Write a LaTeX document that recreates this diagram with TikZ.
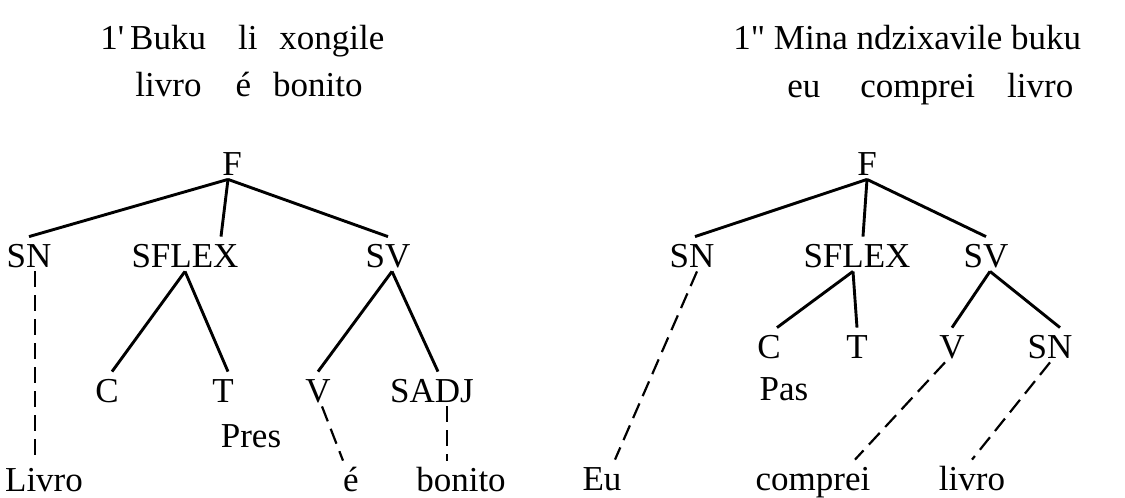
\documentclass[tikz,border=0pt]{standalone}
\usepackage{fontspec}
\setmainfont{Liberation Serif}
\usepackage{tikz}

\tikzset{
  lbl/.style={font=\fontsize{17.5}{21}\selectfont, inner sep=0pt, anchor=base,
              text height=15pt, text depth=2pt},
  leaf/.style={lbl, text depth=0pt},
  gloss/.style={font=\fontsize{17.5}{21}\selectfont, inner sep=0pt, anchor=base west},
  branch/.style={line width=1.45pt},
  trace/.style={line width=1.1pt, dash pattern=on 8pt off 4pt}
}

\begin{document}
\begin{tikzpicture}[x=0.5pt,y=-0.5pt]
\useasboundingbox (0,0) rectangle (1125,498);
% glosses
\node[gloss] (glA1) at (100,49) {1\textquotesingle\kern3pt Buku\hspace{16pt}li\hspace{11pt}xongile};
\node[gloss] (glA2) at (135,96) {livro\hspace{17pt}é\hspace{11pt}bonito};
\node[gloss] (glB1) at (733,49) {1\textquotedbl{} Mina ndzixavile buku};
\node[gloss] (glB2) at (787,97) {eu\hspace{20pt}comprei\hspace{16pt}livro};
% first tree
\node[lbl] (fA) at (232,175) {F};
\node[lbl] (snA) at (29,267) {SN};
\node[lbl] (sflexA) at (185,267) {SFLEX};
\node[lbl] (svA) at (388,267) {SV};
\node[lbl] (cA) at (107,402) {C};
\node[lbl] (tA) at (223,402) {T};
\node[lbl] (vA) at (318,402) {V};
\node[lbl] (sadjA) at (432,402) {SADJ};
\node[lbl] (presA) at (251,447) {Pres};
\node[leaf] (livroA) at (44,491) {Livro};
\node[leaf] (eA) at (351,491) {é};
\node[leaf] (bonitoA) at (461,491) {bonito};
\draw[branch] ([xshift=-2pt]fA.south) -- (snA.north);
\draw[branch] ([xshift=-2pt]fA.south) -- ([xshift=18pt]sflexA.north);
\draw[branch] ([xshift=-2pt]fA.south) -- (svA.north);
\draw[branch] (sflexA.south) -- ([xshift=2.5pt]cA.north);
\draw[branch] (sflexA.south) -- ([xshift=2.5pt]tA.north);
\draw[branch] ([xshift=2pt]svA.south) -- (vA.north);
\draw[branch] ([xshift=2pt]svA.south) -- ([xshift=3pt]sadjA.north);
\draw[trace] ([xshift=3pt]snA.south) -- ([xshift=-4.5pt]livroA.north);
\draw[trace] ([xshift=2pt]vA.south) -- ([xshift=-4pt]eA.north);
\draw[trace] ([xshift=7.5pt]sadjA.south) -- ([xshift=-7pt]bonitoA.north);
% second tree
\node[lbl] (fB) at (867,175) {F};
\node[lbl] (snB) at (692,267) {SN};
\node[lbl] (sflexB) at (857,267) {SFLEX};
\node[lbl] (svB) at (986,267) {SV};
\node[lbl] (cB) at (769,358) {C};
\node[lbl] (tB) at (857,358) {T};
\node[lbl] (vB) at (952,358) {V};
\node[lbl] (snC) at (1050,358) {SN};
\node[lbl] (pasB) at (784,400) {Pas};
\node[leaf] (euB) at (602,490) {Eu};
\node[leaf] (comprB) at (813,490) {comprei};
\node[leaf] (livroB) at (972,490) {livro};
\draw[branch] (fB.south) -- ([xshift=1.5pt]snB.north);
\draw[branch] (fB.south) -- ([xshift=3pt]sflexB.north);
\draw[branch] (fB.south) -- (svB.north);
\draw[branch] ([xshift=-2pt]sflexB.south) -- ([xshift=4pt]cB.north);
\draw[branch] ([xshift=-2pt]sflexB.south) -- (tB.north);
\draw[branch] ([xshift=2pt]svB.south) -- (vB.north);
\draw[branch] ([xshift=2pt]svB.south) -- ([xshift=5pt]snC.north);
\draw[trace] ([xshift=2.5pt]snB.south) -- ([xshift=6.5pt]euB.north);
\draw[trace] ([xshift=-3.5pt]vB.south) -- ([xshift=21pt]comprB.north);
\draw[trace] (snC.south) -- (livroB.north);
\end{tikzpicture}
\end{document}
